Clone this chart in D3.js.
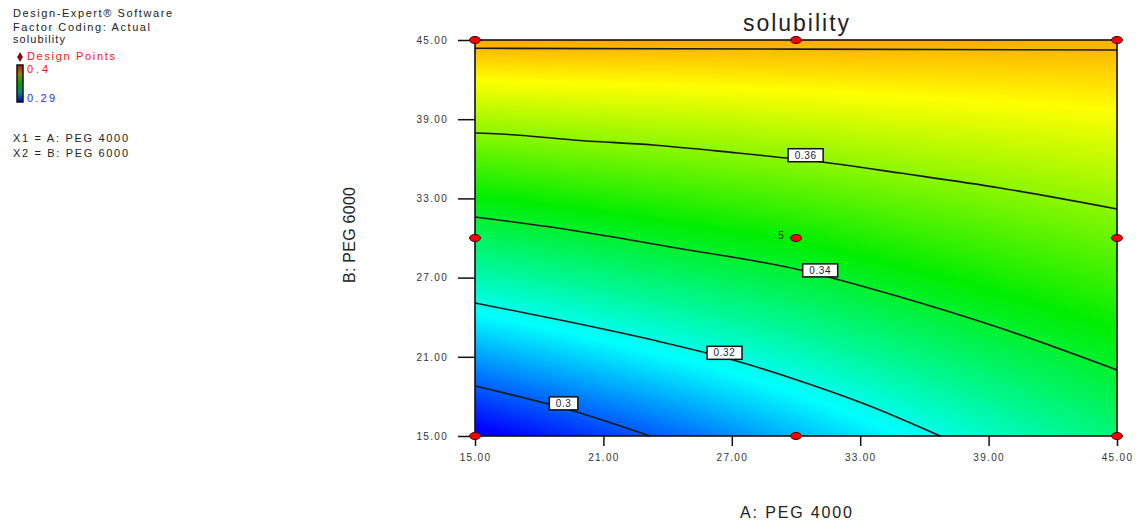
<!DOCTYPE html>
<html>
<head>
<meta charset="utf-8">
<script src="https://cdn.jsdelivr.net/npm/d3@7"></script>
<style>
  html, body { margin: 0; padding: 0; background: #fff; }
  svg { display: block; font-family: "Liberation Sans", Arial, sans-serif; }
</style>
</head>
<body>
<script>
// ---------------- DATA ----------------
const xTicks = [15, 21, 27, 33, 39, 45];
const yTicks = [15, 21, 27, 33, 39, 45];

// response grid: columns = A (PEG 4000), rows = B (PEG 6000)
const gridA = [15, 20, 25, 30, 35, 40, 45];
const gridB = [15, 20, 25, 30, 35, 40, 45];
const solB15 = [0.2880, 0.2952, 0.3020, 0.3098, 0.3175, 0.3250, 0.3320];
const solB20 = [0.3039, 0.3099, 0.3157, 0.3218, 0.3283, 0.3345, 0.3400];
const solB25 = [0.3198, 0.3245, 0.3292, 0.3337, 0.3391, 0.3439, 0.3482];
const solB30 = [0.3351, 0.3388, 0.3425, 0.3457, 0.3497, 0.3532, 0.3564];
const solB35 = [0.3507, 0.3532, 0.3554, 0.3577, 0.3603, 0.3625, 0.3647];
const solB40 = [0.3664, 0.3676, 0.3685, 0.3697, 0.3709, 0.3720, 0.3730];
const solB45 = [0.3820, 0.3819, 0.3818, 0.3817, 0.3816, 0.3814, 0.3813];
const solGrid = [solB15, solB20, solB25, solB30, solB35, solB40, solB45];

// contour lines, [A, B]
const contour030 = [[15, 18.79], [19.44, 16.97], [23.18, 15]];
const contour032 = [[15, 25.08], [19.44, 23.64], [23.32, 22.27], [27.06, 20.76], [30.19, 19.17], [33.33, 17.35], [36.74, 15]];
const contour034 = [[15, 31.59], [19.44, 30.61], [24.12, 29.32], [30.19, 27.58], [34.87, 25.53], [39.54, 23.18], [45, 20.0]];
const contour036 = [[15, 37.95], [16.17, 37.88], [20.05, 37.37], [23.32, 37.05], [27.25, 36.44], [31.22, 35.76], [34.87, 34.92], [39.54, 33.79], [45, 32.2]];
const contour038 = [[15, 44.37], [30, 44.31], [45, 44.24]];
const contourLevels = [contour030, contour032, contour034, contour036, contour038];
const contourLabelText = ["0.3", "0.32", "0.34", "0.36", null];
const contourLabelA = [19.14, 26.66, 31.13, 30.45, null];

// design points
const designA = [15, 30, 45, 15, 30, 45, 15, 30, 45];
const designB = [15, 15, 15, 30, 30, 30, 45, 45, 45];
const designCount = [1, 1, 1, 1, 5, 1, 1, 1, 1];

const colorMin = 0.29, colorMax = 0.4;

// ---------------- CHART ----------------
const W = 1141, H = 526;
const svg = d3.select("body").append("svg").attr("width", W).attr("height", H);

const x = d3.scaleLinear().domain([15, 45]).range([475, 1117]);
const y = d3.scaleLinear().domain([15, 45]).range([436, 40]);

const t = d => (d - colorMin) / (colorMax - colorMin);
const color = d3.scaleLinear()
  .domain([0, 0.25, 0.5, 0.75, 1].map(f => colorMin + f * (colorMax - colorMin)))
  .range(["#0000ff", "#00ffff", "#00ee00", "#ffff00", "#ff0000"])
  .clamp(true);

// colour field (bilinear between the read grid values)
function fieldAt(a, b) {
  let i = Math.min(gridA.length - 2, Math.max(0, d3.bisectRight(gridA, a) - 1));
  let j = Math.min(gridB.length - 2, Math.max(0, d3.bisectRight(gridB, b) - 1));
  const fa = (a - gridA[i]) / (gridA[i + 1] - gridA[i]);
  const fb = (b - gridB[j]) / (gridB[j + 1] - gridB[j]);
  const v00 = solGrid[j][i], v10 = solGrid[j][i + 1], v01 = solGrid[j + 1][i], v11 = solGrid[j + 1][i + 1];
  return (v00 * (1 - fa) + v10 * fa) * (1 - fb) + (v01 * (1 - fa) + v11 * fa) * fb;
}
const x0 = x(15), x1 = x(45), y0 = y(45), y1 = y(15);
const cw = Math.round(x1 - x0), ch = Math.round(y1 - y0);
const canvas = document.createElement("canvas");
canvas.width = cw; canvas.height = ch;
const ctx = canvas.getContext("2d");
const img = ctx.createImageData(cw, ch);
for (let py = 0; py < ch; py++) {
  const b = y.invert(y0 + py + 0.5);
  for (let px = 0; px < cw; px++) {
    const a = x.invert(x0 + px + 0.5);
    const c = d3.rgb(color(fieldAt(a, b)));
    const k = (py * cw + px) * 4;
    img.data[k] = c.r; img.data[k + 1] = c.g; img.data[k + 2] = c.b; img.data[k + 3] = 255;
  }
}
ctx.putImageData(img, 0, 0);
svg.append("image")
  .attr("x", x0).attr("y", y0).attr("width", cw).attr("height", ch)
  .attr("preserveAspectRatio", "none")
  .attr("href", canvas.toDataURL());

// contour lines
const line = d3.line().x(d => x(d[0])).y(d => y(d[1])).curve(d3.curveMonotoneX);
svg.append("g").selectAll("path").data(contourLevels).join("path")
  .attr("d", line).attr("fill", "none").attr("stroke", "#1a1a1a").attr("stroke-width", 1.6);

// contour labels
function bAt(pts, a) {
  for (let k = 0; k < pts.length - 1; k++) {
    if (a >= pts[k][0] && a <= pts[k + 1][0]) {
      const f = (a - pts[k][0]) / (pts[k + 1][0] - pts[k][0]);
      return pts[k][1] + f * (pts[k + 1][1] - pts[k][1]);
    }
  }
  return pts[pts.length - 1][1];
}
const labG = svg.append("g");
contourLevels.forEach((pts, i) => {
  if (!contourLabelText[i]) return;
  const a = contourLabelA[i];
  const cx = x(a), cy = y(bAt(pts, a)) - 5;
  const txt = contourLabelText[i];
  const bw = txt.length * 6.5 + 9, bh = 13;
  labG.append("rect").attr("x", cx - bw / 2).attr("y", cy - bh / 2).attr("width", bw).attr("height", bh)
    .attr("fill", "#fff").attr("stroke", "#111").attr("stroke-width", 1.5);
  labG.append("text").attr("x", cx).attr("y", cy + 3.5).attr("text-anchor", "middle")
    .attr("font-size", 10).attr("letter-spacing", 0.6).attr("fill", "#223").text(txt);
});

// frame
svg.append("rect").attr("x", x0).attr("y", y0).attr("width", x1 - x0).attr("height", y1 - y0)
  .attr("fill", "none").attr("stroke", "#111").attr("stroke-width", 1.6);

// axes
const fmt = d3.format(".2f");
const gx = svg.append("g").attr("transform", `translate(0,${y1})`)
  .call(d3.axisBottom(x).tickValues(xTicks).tickSize(10).tickPadding(8).tickFormat(fmt));
const gy = svg.append("g").attr("transform", `translate(${x0},0)`)
  .call(d3.axisLeft(y).tickValues(yTicks).tickSize(17).tickPadding(10).tickFormat(fmt));
[gx, gy].forEach(g => {
  g.select(".domain").remove();
  g.selectAll(".tick line").attr("stroke", "#111").attr("stroke-width", 1.5);
  g.selectAll(".tick text").attr("font-size", 10).attr("letter-spacing", 1.3)
    .attr("fill", "#333").attr("font-family", "Liberation Sans, Arial, sans-serif");
});

// design points
const pts = designA.map((a, i) => ({ a, b: designB[i], n: designCount[i] }));
svg.append("g").selectAll("ellipse").data(pts).join("ellipse")
  .attr("cx", d => x(d.a)).attr("cy", d => y(d.b)).attr("rx", 5.5).attr("ry", 3.5)
  .attr("fill", "#ff0000").attr("stroke", "#3a0000").attr("stroke-width", 1);
svg.append("g").selectAll("text").data(pts.filter(d => d.n > 1)).join("text")
  .attr("x", d => x(d.a) - 15).attr("y", d => y(d.b) + 1).attr("text-anchor", "middle")
  .attr("font-size", 10).attr("fill", "#222").text(d => d.n);

// titles
svg.append("text").attr("x", (x0 + x1) / 2).attr("y", 31).attr("text-anchor", "middle")
  .attr("font-size", 23).attr("fill", "#222").attr("textLength", 106).attr("lengthAdjust", "spacing").text("solubility");
svg.append("text").attr("x", (x0 + x1) / 2).attr("y", 518).attr("text-anchor", "middle")
  .attr("font-size", 16).attr("fill", "#222").attr("textLength", 112).attr("lengthAdjust", "spacing").text("A: PEG 4000");
svg.append("text").attr("transform", `translate(355,235) rotate(-90)`).attr("text-anchor", "middle")
  .attr("font-size", 16).attr("fill", "#222").attr("textLength", 96).attr("lengthAdjust", "spacing").text("B: PEG 6000");

// legend (top-left)
const leg = svg.append("g").attr("font-size", 11).attr("fill", "#222");
leg.append("text").attr("x", 13).attr("y", 17).attr("textLength", 159).attr("lengthAdjust", "spacing").text("Design-Expert® Software");
leg.append("text").attr("x", 13).attr("y", 31).attr("textLength", 137).attr("lengthAdjust", "spacing").text("Factor Coding: Actual");
leg.append("text").attr("x", 13).attr("y", 43).attr("textLength", 52).attr("lengthAdjust", "spacing").text("solubility");
leg.append("path").attr("d", d3.symbol(d3.symbolDiamond, 22)()).attr("transform", "translate(20,57)")
  .attr("fill", "#a00000").attr("stroke", "#400000").attr("stroke-width", 0.6);
leg.append("text").attr("x", 27).attr("y", 60).attr("fill", "#ff1010").attr("textLength", 88).attr("lengthAdjust", "spacing").text("Design Points");

const defs = svg.append("defs");
const grad = defs.append("linearGradient").attr("id", "barGrad").attr("x1", 0).attr("y1", 0).attr("x2", 0).attr("y2", 1);
[["0%", "#b02000"], ["25%", "#a08000"], ["50%", "#00a000"], ["75%", "#008888"], ["100%", "#0000a8"]]
  .forEach(s => grad.append("stop").attr("offset", s[0]).attr("stop-color", s[1]));
leg.append("rect").attr("x", 17).attr("y", 65).attr("width", 6).attr("height", 37)
  .attr("fill", "url(#barGrad)").attr("stroke", "#111").attr("stroke-width", 1.5);
leg.append("text").attr("x", 27).attr("y", 73).attr("fill", "#ff1010").attr("textLength", 21).attr("lengthAdjust", "spacing").text(String(colorMax));
leg.append("text").attr("x", 27).attr("y", 102).attr("fill", "#2a2aff").attr("textLength", 28).attr("lengthAdjust", "spacing").text(String(colorMin));
leg.append("text").attr("x", 13).attr("y", 142).attr("textLength", 115).attr("lengthAdjust", "spacing").text("X1 = A: PEG 4000");
leg.append("text").attr("x", 13).attr("y", 157).attr("textLength", 115).attr("lengthAdjust", "spacing").text("X2 = B: PEG 6000");
</script>
</body>
</html>
